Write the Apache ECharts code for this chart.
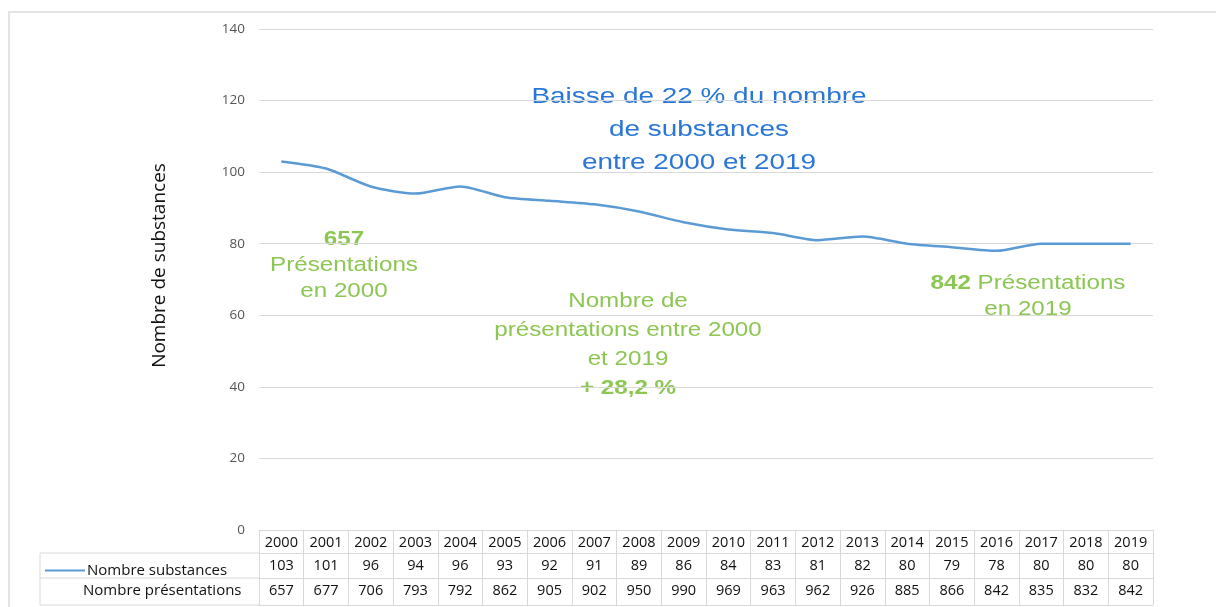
<!DOCTYPE html>
<html>
<head>
<meta charset="utf-8">
<script src="https://cdn.jsdelivr.net/npm/echarts@6/dist/echarts.min.js"></script>
<style>
  html, body { margin: 0; padding: 0; background: #fff; }
  #chart { width: 1216px; height: 607px; }
</style>
</head>
<body>
<div id="chart"></div>
<script>
// data
const years = ['2000', '2001', '2002', '2003', '2004', '2005', '2006', '2007', '2008', '2009',
  '2010', '2011', '2012', '2013', '2014', '2015', '2016', '2017', '2018', '2019'];
const substances = [103, 101, 96, 94, 96, 93, 92, 91, 89, 86, 84, 83, 81, 82, 80, 79, 78, 80, 80, 80];
const presentations = [657, 677, 706, 793, 792, 862, 905, 902, 950, 990, 969, 963, 962, 926, 885, 866, 842, 835, 832, 842];
const yTicks = { min: 0, max: 140, interval: 20 };

const tableFont = 'Open Sans';
const annoFont = 'Liberation Sans';
const border = '#d9d9d9';
const green = '#8cc653';
const blue = '#2a76d6';
const stretch = 1.24; // the picture is a bit wider than tall

const chart = echarts.init(document.getElementById('chart'));

// one category axis per table row; ticks make the cell borders
function rowAxis(offset, tickLen, data, show) {
  return {
    type: 'category',
    gridIndex: 0,
    position: 'bottom',
    offset: offset,
    data: data,
    axisLine: { show: true, lineStyle: { color: border, width: 1 } },
    axisTick: { show: true, length: tickLen, interval: 0, lineStyle: { color: border } },
    axisLabel: {
      show: show, interval: 0, margin: 5,
      fontFamily: tableFont, fontSize: 14.5, color: '#111'
    },
    splitLine: { show: false }
  };
}

function anno(x, y, text, color, size, lh) {
  return {
    type: 'text', x: x, y: y, scaleX: stretch, originX: 0, originY: 0,
    style: {
      text: text, align: 'center', fontFamily: annoFont, fontSize: size, lineHeight: lh, fill: color,
      rich: { b: { fontWeight: 'bold', fontFamily: annoFont, fontSize: size, lineHeight: lh, fill: color } }
    }
  };
}

const option = {
  animation: false,
  backgroundColor: '#fff',
  grid: { left: 259, right: 63, top: 29, bottom: 77, containLabel: false },
  legend: {
    left: 40, top: 558,
    itemWidth: 40, itemHeight: 14, itemGap: 0,
    data: [{ name: 'Nombre substances', icon: 'path://M0,6 L40,6 L40,8 L0,8 Z' }],
    textStyle: { fontFamily: tableFont, fontSize: 15, color: '#111', padding: [0, 0, 0, -3] }
  },
  xAxis: [
    rowAxis(0, 23, years, true),
    rowAxis(23, 25, substances.map(String), true),
    rowAxis(48, 27, presentations.map(String), true),
    rowAxis(75, 0, years.map(() => ''), false)
  ],
  yAxis: {
    type: 'value',
    min: yTicks.min, max: yTicks.max, interval: yTicks.interval,
    name: 'Nombre de substances',
    nameLocation: 'middle',
    nameGap: 90,
    nameTextStyle: { fontFamily: tableFont, fontSize: 19, color: '#111', padding: [0, 0, 0, 28] },
    axisLine: { show: false },
    axisTick: { show: false },
    axisLabel: { margin: 14, fontFamily: tableFont, fontSize: 13.5, color: '#555' },
    splitLine: { lineStyle: { color: border, width: 1 } }
  },
  series: [{
    name: 'Nombre substances',
    type: 'line',
    xAxisIndex: 0,
    data: substances,
    smooth: 0.25,
    symbol: 'none',
    lineStyle: { color: '#5b9bd5', width: 2.5 },
    itemStyle: { color: '#5b9bd5' }
  }],
  graphic: [
    // outer frame
    { type: 'rect', shape: { x: 9, y: 12, width: 1220, height: 620 },
      style: { fill: 'none', stroke: '#e3e3e3', lineWidth: 2 }, silent: true },
    // left header cells of the table
    { type: 'line', shape: { x1: 40, y1: 553, x2: 259, y2: 553 }, style: { stroke: border } },
    { type: 'line', shape: { x1: 40, y1: 578, x2: 259, y2: 578 }, style: { stroke: border } },
    { type: 'line', shape: { x1: 40, y1: 605, x2: 259, y2: 605 }, style: { stroke: border } },
    { type: 'line', shape: { x1: 40, y1: 553, x2: 40, y2: 605 }, style: { stroke: border } },
    { type: 'text', left: 83, top: 583,
      style: { text: 'Nombre présentations', fontFamily: tableFont, fontSize: 15, fill: '#111' } },
    // blue annotation
    anno(699, 80, 'Baisse de 22 % du nombre\nde substances\nentre 2000 et 2019', blue, 22.5, 33),
    // green annotations
    anno(344, 227, '{b|657}\nPrésentations\nen 2000', green, 19.5, 26),
    anno(628, 287, 'Nombre de\nprésentations entre 2000\net 2019\n{b|+ 28,2 %}', green, 19.5, 29),
    anno(1028, 271, '{b|842} Présentations\nen 2019', green, 19.5, 26)
  ]
};

chart.setOption(option);
</script>
</body>
</html>
